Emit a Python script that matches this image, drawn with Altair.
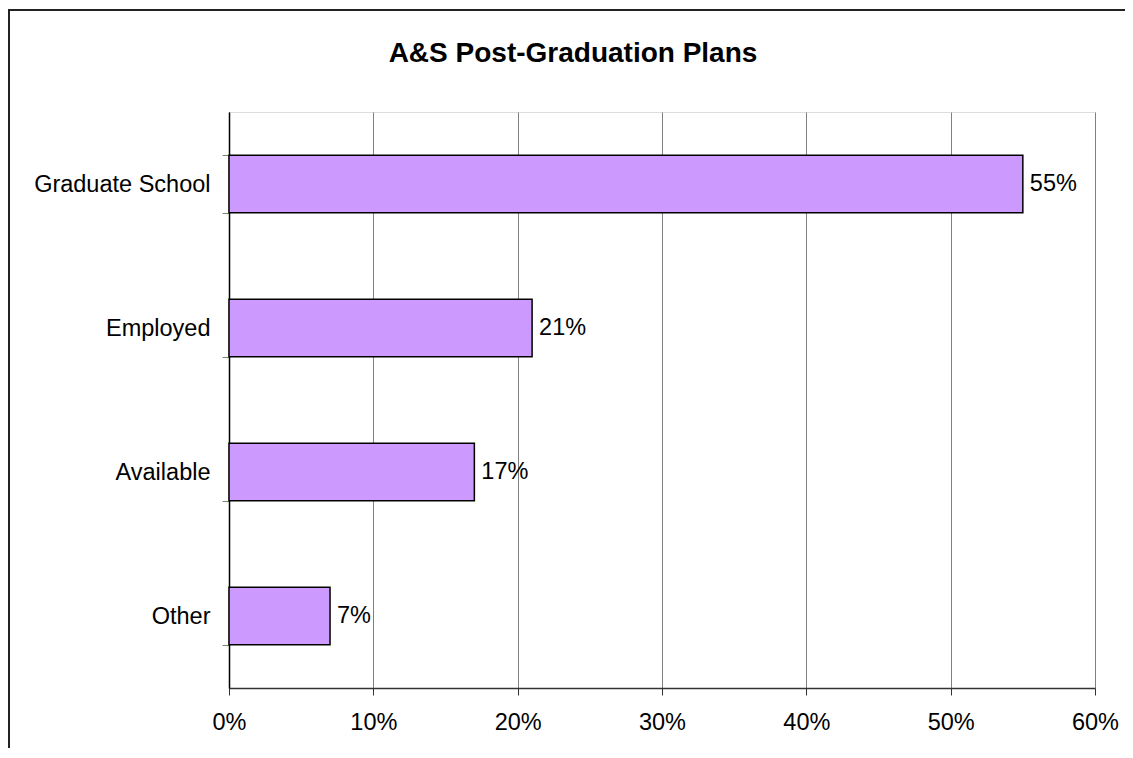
import altair as alt
import pandas as pd

categories = ["Graduate School", "Employed", "Available", "Other"]
shares = [0.55, 0.21, 0.17, 0.07]
x_ticks = [0, 0.1, 0.2, 0.3, 0.4, 0.5, 0.6]
chart_title = "A&S Post-Graduation Plans"

df = pd.DataFrame({"plan": categories, "share": shares})
FONT = "Liberation Sans"

base = alt.Chart(df)

y_enc = alt.Y(
    "plan:N",
    sort=categories,
    title=None,
    scale=alt.Scale(paddingInner=0.6, paddingOuter=0.3),
    axis=alt.Axis(
        tickBand="extent",
        tickSize=7,
        tickColor="#808080",
        domainColor="#000000",
        domainWidth=1.5,
        labelPadding=12,
        labelFont=FONT,
        labelFontSize=23.5,
        labelColor="#000000",
        labelLimit=0,
        grid=False,
    ),
)

x_enc = alt.X(
    "share:Q",
    title=None,
    scale=alt.Scale(domain=[0, 0.6], nice=False),
    axis=alt.Axis(
        values=x_ticks,
        format=".0%",
        tickSize=7,
        tickColor="#333333",
        domainColor="#333333",
        domainWidth=1.5,
        labelPadding=15,
        labelFont=FONT,
        labelFontSize=23.5,
        labelColor="#000000",
        grid=True,
        gridColor="#808080",
        gridWidth=1,
        labelFlush=False,
    ),
)

bars = base.mark_bar(fill="#CC99FF", stroke="#000000", strokeWidth=1.5).encode(
    x=x_enc, y=y_enc
)

labels = base.mark_text(
    align="left", baseline="middle", dx=7, font=FONT, fontSize=23.5, color="#000000"
).encode(
    x=alt.X("share:Q"),
    y=alt.Y("plan:N", sort=categories),
    text=alt.Text("share:Q", format=".0%"),
)

one = pd.DataFrame({"t": [chart_title]})

border = alt.Chart(one).mark_rect(
    fill=None, stroke="#222222", strokeWidth=2
).encode(
    x=alt.value(-220),
    x2=alt.value(940),
    y=alt.value(-102),
    y2=alt.value(700),
)

title = alt.Chart(one).mark_text(
    font=FONT, fontSize=28, fontWeight="bold", color="#000000",
    align="center", baseline="alphabetic",
).encode(
    x=alt.value(344),
    y=alt.value(-50),
    text="t:N",
)

chart = (
    alt.layer(border, bars, labels, title)
    .properties(
        width=866,
        height=576,
        autosize=alt.AutoSizeParams(type="none"),
        padding={"left": 221, "top": 104, "right": 30, "bottom": 60},
    )
    .configure_view(stroke="#808080", strokeWidth=1.5)
    .configure(background="white")
)

chart.save("out.html", embed_options={"renderer": "svg", "actions": False})
